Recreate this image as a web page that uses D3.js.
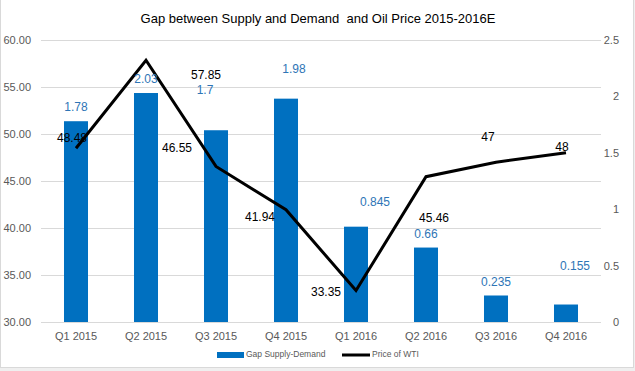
<!DOCTYPE html>
<html><head><meta charset="utf-8">
<script src="https://cdn.jsdelivr.net/npm/d3@7"></script>
<style>body{margin:0;background:#fff}svg{display:block;font-family:"Liberation Sans",Arial,sans-serif}</style>
</head><body>
<script>
const categories = ["Q1 2015","Q2 2015","Q3 2015","Q4 2015","Q1 2016","Q2 2016","Q3 2016","Q4 2016"];
const gapValues = [1.78, 2.03, 1.7, 1.98, 0.845, 0.66, 0.235, 0.155];
const wtiValues = [48.48, 57.85, 46.55, 41.94, 33.35, 45.46, 47, 48];
const gapLabels = ["1.78","2.03","1.7","1.98","0.845","0.66","0.235","0.155"];
const wtiLabels = ["48.48","57.85","46.55","41.94","33.35","45.46","47","48"];
const leftTicks = [30,35,40,45,50,55,60];
const rightTicks = [0,0.5,1,1.5,2,2.5];
// label offsets (dx, dy from the mark) as placed in the reference
const gapLabelOffsets = [[0,-13],[0,-13],[-11,-39],[8,-29],[19,-24],[0,-12.5],[0,-12.5],[9,-37.5]];
const wtiLabelOffsets = [[-4,-9],[60,16],[-39,-18],[-26,8],[-30,2.5],[8,42],[-8,-24],[-4,-5]];

const W = 635, H = 371;
const svg = d3.select("body").append("svg").attr("width", W).attr("height", H);
svg.append("rect").attr("x",0).attr("y",0).attr("width",W).attr("height",H).attr("fill","#efefef");
svg.append("rect").attr("x",0.5).attr("y",-1).attr("width",633).attr("height",368.5).attr("fill","#fff").attr("stroke","#d9d9d9");

const m = {l:41, r:601, t:40, b:322};
const x = d3.scaleBand().domain(categories).range([m.l, m.r]).paddingInner(0.657).paddingOuter(0.3285);
const yL = d3.scaleLinear().domain([30,60]).range([m.b, m.t]);
const yR = d3.scaleLinear().domain([0,2.5]).range([m.b, m.t]);

// gridlines
svg.append("g").selectAll("line").data(leftTicks).join("line")
  .attr("x1", m.l).attr("x2", m.r).attr("y1", d=>yL(d)+0.5).attr("y2", d=>yL(d)+0.5)
  .attr("stroke","#d9d9d9").attr("stroke-width",1);

// left axis
const gL = svg.append("g").attr("transform",`translate(${m.l - 10},0)`)
  .call(d3.axisLeft(yL).tickValues(leftTicks).tickFormat(d3.format(".2f")).tickSize(0).tickPadding(0));
gL.select(".domain").remove();
gL.selectAll("text").attr("font-size",11).attr("fill","#595959").attr("font-family","Liberation Sans, Arial, sans-serif");

// right axis
const gR = svg.append("g").attr("transform",`translate(619,0)`)
  .call(d3.axisLeft(yR).tickValues(rightTicks).tickFormat(d=>String(d)).tickSize(0).tickPadding(0));
gR.select(".domain").remove();
gR.selectAll("text").attr("font-size",11).attr("fill","#595959").attr("font-family","Liberation Sans, Arial, sans-serif");

// x axis
const gX = svg.append("g").attr("transform",`translate(0,${m.b + 8})`)
  .call(d3.axisBottom(x).tickSize(0).tickPadding(0));
gX.select(".domain").remove();
gX.selectAll("text").attr("font-size",11).attr("fill","#595959").attr("dy","0.9em").attr("font-family","Liberation Sans, Arial, sans-serif");

// bars
svg.append("g").selectAll("rect").data(gapValues).join("rect")
  .attr("x",(d,i)=>x(categories[i])).attr("width",x.bandwidth())
  .attr("y",d=>yR(d)).attr("height",d=>yR(0)-yR(d)).attr("fill","#0070c0");

// line
const cx = i => x(categories[i]) + x.bandwidth()/2;
svg.append("path").datum(wtiValues)
  .attr("d", d3.line().x((d,i)=>cx(i)).y(d=>yL(d)))
  .attr("fill","none").attr("stroke","#000").attr("stroke-width",3).attr("stroke-linejoin","miter");

// bar labels
svg.append("g").selectAll("text").data(gapValues).join("text")
  .attr("x",(d,i)=>cx(i)+gapLabelOffsets[i][0]).attr("y",(d,i)=>yR(d)+gapLabelOffsets[i][1])
  .attr("text-anchor","middle").attr("dominant-baseline","middle")
  .attr("font-size",12).attr("fill","#2e75b6").text((d,i)=>gapLabels[i]);

// line labels
svg.append("g").selectAll("text").data(wtiValues).join("text")
  .attr("x",(d,i)=>cx(i)+wtiLabelOffsets[i][0]).attr("y",(d,i)=>yL(d)+wtiLabelOffsets[i][1])
  .attr("text-anchor","middle").attr("dominant-baseline","middle")
  .attr("font-size",12).attr("fill","#000").text((d,i)=>wtiLabels[i]);

// title
svg.append("text").attr("x",318).attr("y",20).attr("text-anchor","middle").attr("dominant-baseline","middle")
  .attr("font-size",13).attr("fill","#000").text("Gap between Supply and Demand  and Oil Price 2015-2016E")
  .attr("xml:space","preserve").style("white-space","pre");

// legend
const lg = svg.append("g");
lg.append("rect").attr("x",217).attr("y",352).attr("width",27).attr("height",6).attr("fill","#0070c0");
lg.append("text").attr("x",246).attr("y",355).attr("dominant-baseline","middle").attr("font-size",8.5).attr("fill","#595959").text("Gap Supply-Demand");
lg.append("line").attr("x1",342).attr("x2",370).attr("y1",355).attr("y2",355).attr("stroke","#000").attr("stroke-width",3);
lg.append("text").attr("x",372).attr("y",355).attr("dominant-baseline","middle").attr("font-size",8.5).attr("fill","#595959").text("Price of WTI");
</script>
</body></html>
